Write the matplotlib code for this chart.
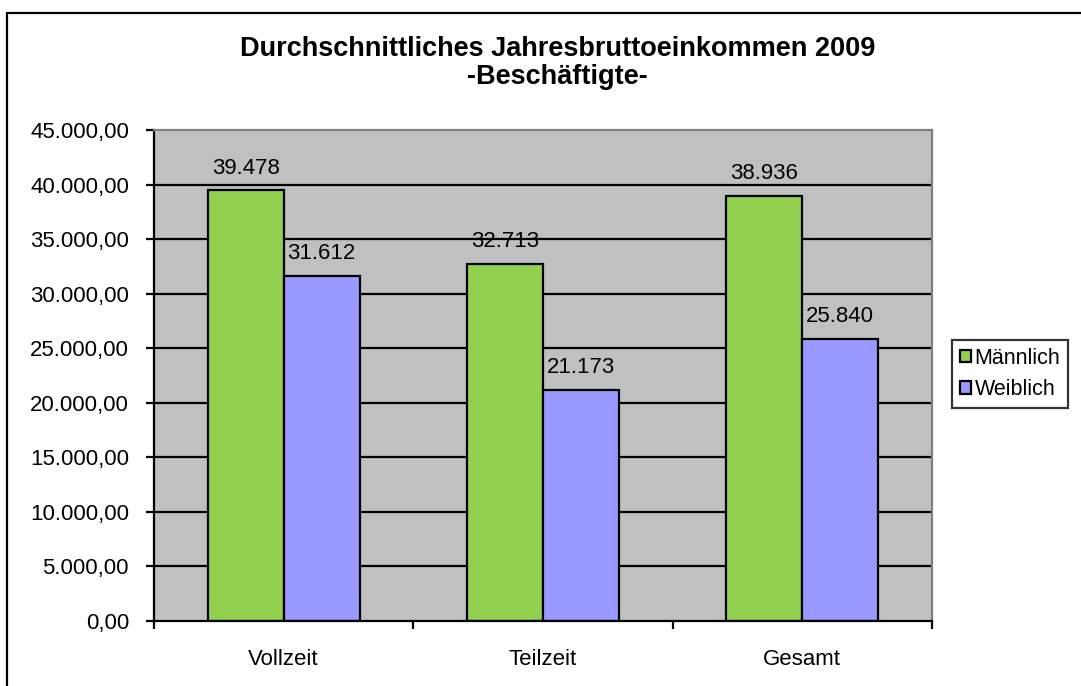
import matplotlib
matplotlib.use("Agg")
from matplotlib import pyplot as plt
from matplotlib.patches import Rectangle
from matplotlib.ticker import FuncFormatter
import numpy as np

categories = ['Vollzeit', 'Teilzeit', 'Gesamt']
maennlich = [39478, 32713, 38936]
weiblich = [31612, 21173, 25840]
series_names = ['Männlich', 'Weiblich']

plt.rcParams['font.family'] = ['Liberation Sans', 'DejaVu Sans']

fig = plt.figure(figsize=(10.81, 6.86), dpi=100)
ax = fig.add_axes([154 / 1081, 1 - 621 / 686, (932 - 154) / 1081, (621 - 130) / 686])

# outer frame of the chart object
fig.patches.append(Rectangle((7 / 1081, -0.1), 1.2, 0.981 + 0.1, transform=fig.transFigure,
                             fill=False, edgecolor='black', linewidth=1.6, clip_on=False))

x = np.arange(len(categories))
w = 0.293
ax.set_facecolor('#C0C0C0')
ax.set_xlim(-0.5, 2.5)
ax.set_ylim(0, 45000)

for y in range(5000, 45000, 5000):
    ax.axhline(y, color='black', linewidth=1.6, zorder=1)

b1 = ax.bar(x - w / 2, maennlich, w, color='#92D050', edgecolor='black', linewidth=1.6,
            zorder=2, label=series_names[0])
b2 = ax.bar(x + w / 2, weiblich, w, color='#9999FF', edgecolor='black', linewidth=1.6,
            zorder=2, label=series_names[1])

def de_num(v):
    return f'{v:,.0f}'.replace(',', '.')

for bars, vals in [(b1, maennlich), (b2, weiblich)]:
    for r, v in zip(bars, vals):
        ax.annotate(de_num(v), (r.get_x() + r.get_width() / 2, v), xytext=(0, 16),
                    textcoords='offset points', ha='center', va='center', fontsize=16)

ax.yaxis.set_major_formatter(FuncFormatter(lambda v, p: f'{v:,.2f}'.replace(',', 'X').replace('.', ',').replace('X', '.')))
ax.set_yticks(np.arange(0, 45001, 5000))
ax.set_xticks([-0.5, 0.5, 1.5, 2.5])
ax.set_xticklabels([])
ax.set_xticks(x, minor=True)
ax.set_xticklabels(categories, minor=True)
ax.tick_params(axis='x', which='minor', length=0, pad=20, labelsize=16)
ax.tick_params(axis='x', which='major', length=6, width=1.6, direction='out')
ax.tick_params(axis='y', length=6, width=1.6, direction='out', labelsize=16, pad=12)

for s in ['top', 'right']:
    ax.spines[s].set_color('#808080')
    ax.spines[s].set_linewidth(1.6)
for s in ['left', 'bottom']:
    ax.spines[s].set_color('black')
    ax.spines[s].set_linewidth(1.6)

fig.text(0.516, 1 - 63 / 686, 'Durchschnittliches Jahresbruttoeinkommen 2009\n-Beschäftigte-',
         ha='center', va='center', fontsize=19.5, fontweight='bold', linespacing=1.05)

leg = fig.legend(handles=[b1, b2], loc='center left', bbox_to_anchor=(952 / 1081, 1 - 374 / 686),
                 fontsize=15.5, frameon=True, fancybox=False, edgecolor='black',
                 handlelength=0.55, handleheight=0.55, handletextpad=0.15, borderpad=0.35,
                 labelspacing=0.5, borderaxespad=0)
leg.get_frame().set_linewidth(1.6)

fig.savefig('out.png', dpi=100)
